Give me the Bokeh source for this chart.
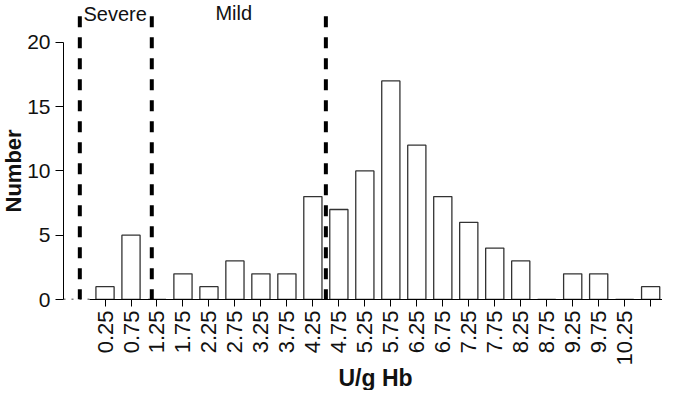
import math
from bokeh.plotting import figure
from bokeh.models import Range1d, FixedTicker, Title
from bokeh.core.properties import value
from bokeh.embed import file_html
from bokeh.resources import INLINE

# ---- data ----
bin_centers = [0.25, 0.75, 1.25, 1.75, 2.25, 2.75, 3.25, 3.75, 4.25, 4.75, 5.25,
               5.75, 6.25, 6.75, 7.25, 7.75, 8.25, 8.75, 9.25, 9.75, 10.25, 10.75]
counts = [1, 5, 0, 2, 1, 3, 2, 2, 8, 7, 10, 17, 12, 8, 6, 4, 3, 0, 2, 2, 0, 1]
tick_labels = ["0.25", "0.75", "1.25", "1.75", "2.25", "2.75", "3.25", "3.75", "4.25",
               "4.75", "5.25", "5.75", "6.25", "6.75", "7.25", "7.75", "8.25", "8.75",
               "9.25", "9.75", "10.25", ""]
y_ticks = [0, 5, 10, 15, 20]
cutoffs = [-0.235, 1.15, 4.5]
region_labels = ["Severe", "Mild"]
region_label_x = [0.444, 2.727]
region_label_y = [22.18, 22.26]
cutoff_top = 22.03
x_title = "U/g Hb"
y_title = "Number"

FONT = "Liberation Sans"

p = figure(width=662, height=390, output_backend="svg", toolbar_location=None,
           x_range=Range1d(-0.549, 10.978), y_range=Range1d(0, 23.25),
           min_border_left=63, min_border_right=0, min_border_top=0, min_border_bottom=91)
p.outline_line_color = None
p.xgrid.visible = False
p.ygrid.visible = False
p.background_fill_color = "white"

# bars
p.vbar(x=bin_centers, top=counts, bottom=0, width=0.35,
       fill_color="white", line_color="#333333", line_width=1.3)

# cutoff dashed lines
p.segment(x0=cutoffs, y0=[cutoff_top] * len(cutoffs), x1=cutoffs, y1=[0] * len(cutoffs),
          line_color="black", line_width=4, line_dash="11 10")

# dotted start of the x axis
p.segment(x0=[-0.549], y0=[0], x1=[-0.05], y1=[0], line_color="black",
          line_width=1.3, line_dash="2 6")

# region labels
p.text(x=region_label_x, y=region_label_y, text=region_labels,
       text_font=value(FONT), text_font_size="20px", text_color="#111111",
       text_align="center", text_baseline="alphabetic")

# x axis
xa = p.xaxis[0]
xa.bounds = (-0.05, 10.98)
xa.ticker = FixedTicker(ticks=bin_centers)
xa.major_label_overrides = {c: l for c, l in zip(bin_centers, tick_labels)}
xa.major_label_orientation = math.pi / 2
xa.major_label_text_font = FONT
xa.major_label_text_font_size = "22px"
xa.major_label_text_color = "#111111"
xa.major_label_standoff = 4
xa.major_tick_out = 7
xa.major_tick_in = 0
xa.minor_tick_out = 0
xa.minor_tick_in = 0
xa.axis_line_color = "black"
xa.major_tick_line_color = "black"

# y axis
ya = p.yaxis[0]
ya.bounds = (0, 20)
ya.ticker = FixedTicker(ticks=y_ticks)
ya.major_label_text_font = FONT
ya.major_label_text_font_size = "21px"
ya.major_label_text_color = "#111111"
ya.major_label_standoff = 5
ya.major_tick_out = 8
ya.major_tick_in = 0
ya.minor_tick_out = 0
ya.minor_tick_in = 0
ya.axis_line_color = "black"

# axis titles (placed along the axis bounds, as in the reference)
p.add_layout(Title(text=x_title, align="left", offset=275, standoff=-8,
                   vertical_align="top", text_font=FONT, text_font_style="bold",
                   text_font_size="23px", text_color="#111111", text_line_height=1.0),
             "below")
p.add_layout(Title(text=y_title, align="left", offset=87, standoff=-6,
                   vertical_align="top", text_font=FONT, text_font_style="bold",
                   text_font_size="22px", text_color="#111111", text_line_height=1.0),
             "left")

open("out.html", "w").write(file_html(p, INLINE))
